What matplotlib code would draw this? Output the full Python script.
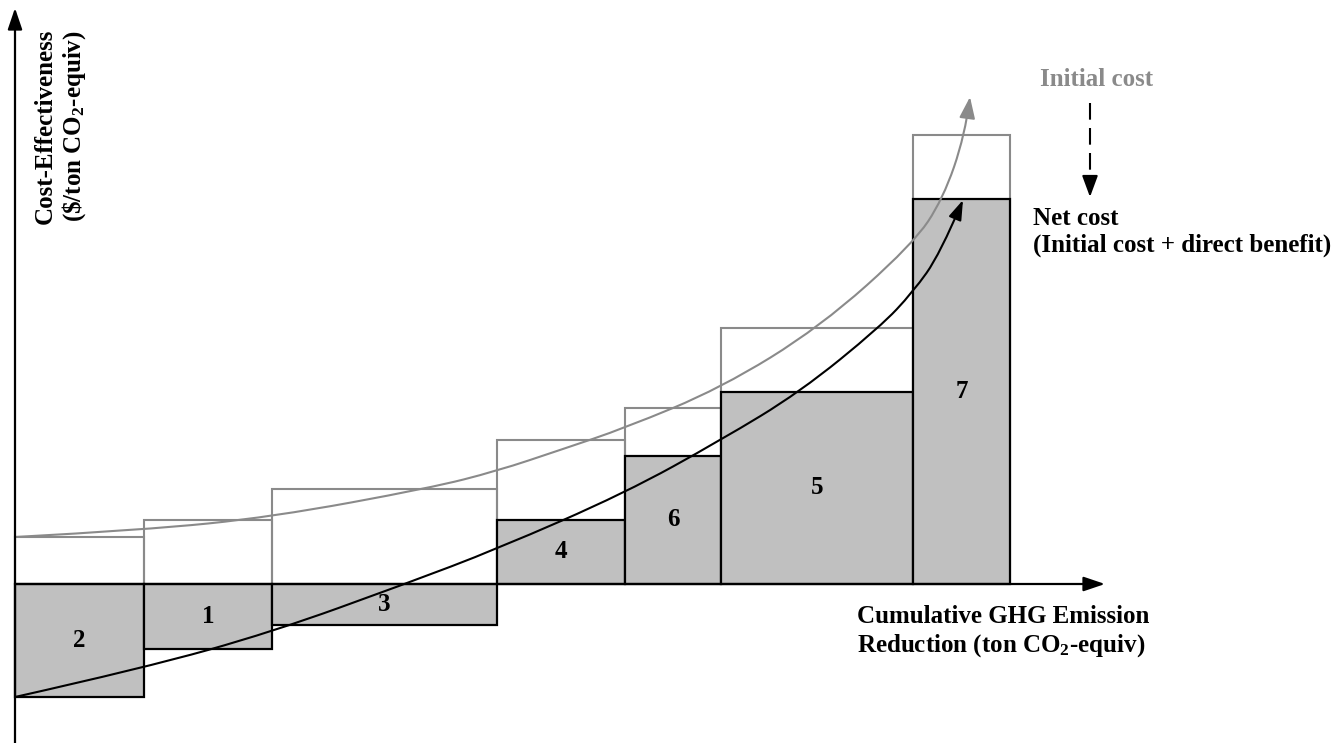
import numpy as np
import matplotlib.pyplot as plt
from matplotlib.path import Path
from matplotlib.patches import FancyArrowPatch

plt.rcParams['font.family'] = ['Liberation Serif', 'DejaVu Serif']
plt.rcParams['font.weight'] = 'bold'
plt.rcParams['mathtext.fontset'] = 'custom'
plt.rcParams['mathtext.rm'] = 'Liberation Serif:bold'
plt.rcParams['mathtext.it'] = 'Liberation Serif:bold'
plt.rcParams['mathtext.bf'] = 'Liberation Serif:bold'

# Massnahmen (Reihenfolge nach Kosteneffektivitaet)
labels = ['2', '1', '3', '4', '6', '5', '7']
widths = [129, 128, 225, 128, 96, 192, 97]           # Reduktionsmenge
net_cost = [-113, -65, -41, 64, 128, 192, 385]       # Nettokosten
initial_cost = [47, 64, 95, 144, 176, 256, 449]      # Anfangskosten

# Kurven
init_curve_x = [0, 129, 257, 415, 482, 545, 610, 706, 805, 898, 928, 950, 955]
init_curve_y = [47, 54, 67, 96, 113, 134, 156, 196, 257, 340, 385, 449, 487]
net_curve_x = [0, 129, 257, 390, 482, 610, 706, 785, 865, 898, 925, 948]
net_curve_y = [-113, -84, -48, 0, 35, 91, 144, 192, 257, 292, 330, 384]

grey = '#8a8a8a'
fill = '#c0c0c0'


def smooth_path(xs, ys):
    # quadratische Bezier-Kette durch die Mittelpunkte
    pts = np.column_stack([xs, ys]).astype(float)
    verts = [pts[0]]
    codes = [Path.MOVETO]
    for i in range(1, len(pts) - 1):
        mid = (pts[i] + pts[i + 1]) / 2 if i < len(pts) - 2 else pts[i + 1]
        verts += [pts[i], mid]
        codes += [Path.CURVE3, Path.CURVE3]
    return Path(verts, codes)


fig = plt.figure(figsize=(13.44, 7.43), dpi=100)
ax = fig.add_axes([0, 0, 1, 1])
ax.set_xlim(-15, 1329)
ax.set_ylim(-159, 584)
ax.axis('off')

lefts = np.concatenate([[0], np.cumsum(widths)[:-1]])

# Anfangskosten als Umriss
ax.bar(lefts, initial_cost, widths, align='edge', fill=False,
       edgecolor=grey, linewidth=1.5, zorder=1)
# Nettokosten
ax.bar(lefts, net_cost, widths, align='edge', color=fill,
       edgecolor='black', linewidth=1.6, zorder=2)

for l, w, v, lab in zip(lefts, widths, net_cost, labels):
    ax.text(l + w / 2, v / 2, lab, ha='center', va='center',
            fontsize=18, fontweight='bold', zorder=5)

# Kurven mit Pfeil
ax.add_patch(FancyArrowPatch(path=smooth_path(init_curve_x, init_curve_y),
                             arrowstyle='-|>,head_length=0.65,head_width=0.24',
                             mutation_scale=20, color=grey, linewidth=1.5,
                             zorder=4))
ax.add_patch(FancyArrowPatch(path=smooth_path(net_curve_x, net_curve_y),
                             arrowstyle='-|>,head_length=0.6,head_width=0.2',
                             mutation_scale=20, color='black', linewidth=1.5,
                             zorder=4))

# Achsen
ap = dict(arrowstyle='-|>,head_length=0.65,head_width=0.22',
          mutation_scale=20, color='black', linewidth=1.6,
          shrinkA=0, shrinkB=0)
ax.annotate('', xy=(0, 576), xytext=(0, -159), arrowprops=ap, zorder=6)
ax.annotate('', xy=(1090, 0), xytext=(0, 0), arrowprops=ap, zorder=6)

# gestrichelter Pfeil Initial -> Net
ax.plot([1075, 1075], [481, 404], color='black', linewidth=1.5,
        linestyle=(0, (8, 4)), zorder=6)
ax.annotate('', xy=(1075, 387), xytext=(1075, 400),
            arrowprops=dict(arrowstyle='-|>,head_length=0.65,head_width=0.24',
                            mutation_scale=20, color='black', linewidth=1.5,
                            shrinkA=0, shrinkB=0), zorder=6)

# Beschriftungen
ax.text(46, 458, 'Cost-Effectiveness\n(\\$/ton CO$_2$-equiv)', rotation=90,
        ha='center', va='center', multialignment='center', fontsize=18)
ax.text(842, -48, 'Cumulative GHG Emission\nReduction (ton CO$_2$-equiv)',
        ha='left', va='center', multialignment='left', fontsize=18)
ax.text(1082, 504, 'Initial cost', color=grey, ha='center', va='center',
        fontsize=18)
ax.text(1018, 352, 'Net cost\n(Initial cost + direct benefit)',
        ha='left', va='center', multialignment='left', fontsize=18)

fig.savefig('out.png', dpi=100)
